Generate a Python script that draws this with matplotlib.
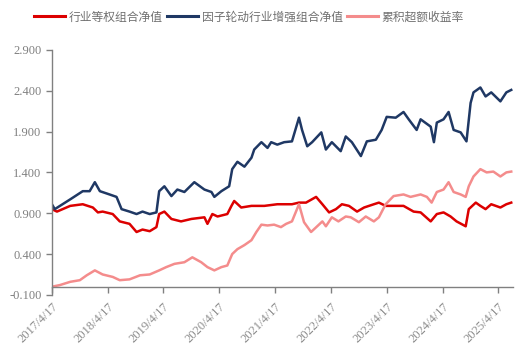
import matplotlib
matplotlib.use("Agg")
import matplotlib.pyplot as plt
import pandas as pd

plt.rcParams['font.family'] = ['Noto Sans CJK SC', 'DejaVu Sans']

# values (dates, net values)
blue_dates = [
    "2017-04-17", "2017-05-06", "2017-08-15", "2017-11-05", "2017-12-20",
    "2018-01-23", "2018-02-25", "2018-04-29", "2018-06-14", "2018-07-17",
    "2018-09-07", "2018-10-23", "2018-12-01", "2019-01-17", "2019-03-02",
    "2019-03-20", "2019-04-23", "2019-06-08", "2019-07-17", "2019-09-01",
    "2019-11-05", "2020-01-10", "2020-02-25", "2020-03-15", "2020-04-30",
    "2020-06-20", "2020-07-10", "2020-08-13", "2020-09-28", "2020-11-13",
    "2020-12-01", "2021-01-17", "2021-02-26", "2021-03-22", "2021-05-01",
    "2021-06-15", "2021-08-05", "2021-09-20", "2021-10-10", "2021-11-13",
    "2021-12-15", "2022-02-13", "2022-03-15", "2022-04-23", "2022-06-20",
    "2022-07-23", "2022-09-01", "2022-10-30", "2022-12-08", "2023-02-05",
    "2023-03-15", "2023-04-17", "2023-06-15", "2023-08-05", "2023-09-08",
    "2023-10-30", "2023-11-25", "2024-01-30", "2024-02-20", "2024-03-10",
    "2024-04-23", "2024-05-26", "2024-06-28", "2024-08-13", "2024-09-20",
    "2024-10-17", "2024-11-05", "2024-12-20", "2025-01-23", "2025-03-01",
    "2025-04-30", "2025-06-08", "2025-07-10",
]
blue_values = [
    1.01, 0.95, 1.07, 1.17, 1.17,
    1.28, 1.17, 1.13, 1.10, 0.95,
    0.92, 0.89, 0.92, 0.89, 0.91,
    1.17, 1.23, 1.11, 1.19, 1.16,
    1.28, 1.19, 1.16, 1.10, 1.17,
    1.23, 1.44, 1.53, 1.47, 1.58,
    1.68, 1.77, 1.70, 1.77, 1.74,
    1.77, 1.78, 2.07, 1.92, 1.72,
    1.77, 1.89, 1.68, 1.77, 1.66,
    1.84, 1.77, 1.60, 1.78, 1.80,
    1.92, 2.08, 2.07, 2.14, 2.05,
    1.92, 2.05, 1.96, 1.77, 2.01,
    2.05, 2.14, 1.92, 1.89, 1.78,
    2.25, 2.38, 2.44, 2.33, 2.38,
    2.27, 2.38, 2.41,
]

red_dates = [
    "2017-04-17", "2017-05-20", "2017-08-15", "2017-11-05", "2018-01-10",
    "2018-02-12", "2018-03-15", "2018-05-20", "2018-07-05", "2018-09-07",
    "2018-10-23", "2018-12-01", "2019-01-17", "2019-03-02", "2019-03-20",
    "2019-04-23", "2019-06-08", "2019-08-10", "2019-10-17", "2020-01-10",
    "2020-01-30", "2020-03-02", "2020-04-05", "2020-06-08", "2020-07-05",
    "2020-07-23", "2020-09-07", "2020-11-13", "2021-02-05", "2021-05-01",
    "2021-08-05", "2021-09-20", "2021-11-05", "2022-01-10", "2022-02-20",
    "2022-04-05", "2022-05-20", "2022-06-28", "2022-08-13", "2022-10-05",
    "2022-11-20", "2023-01-23", "2023-02-25", "2023-04-10", "2023-06-15",
    "2023-08-05", "2023-10-10", "2023-11-25", "2024-01-30", "2024-03-10",
    "2024-04-23", "2024-06-08", "2024-07-17", "2024-09-15", "2024-10-05",
    "2024-11-20", "2024-12-20", "2025-01-23", "2025-03-01", "2025-04-30",
    "2025-06-08", "2025-07-10",
]
red_values = [
    0.95, 0.92, 0.99, 1.01, 0.97,
    0.91, 0.92, 0.89, 0.80, 0.77,
    0.67, 0.70, 0.68, 0.73, 0.89,
    0.92, 0.83, 0.80, 0.83, 0.85,
    0.77, 0.89, 0.86, 0.89, 0.99,
    1.05, 0.97, 0.99, 0.99, 1.01,
    1.01, 1.03, 1.03, 1.10, 1.01,
    0.91, 0.95, 1.01, 0.99, 0.92,
    0.97, 1.01, 1.03, 0.99, 0.99,
    0.99, 0.92, 0.91, 0.80, 0.89,
    0.91, 0.86, 0.80, 0.74, 0.95,
    1.03, 0.99, 0.95, 1.01, 0.97,
    1.01, 1.03,
]

pink_dates = [
    "2017-04-17", "2017-06-08", "2017-08-15", "2017-10-17", "2017-12-01",
    "2018-01-23", "2018-03-15", "2018-05-20", "2018-07-05", "2018-09-07",
    "2018-11-15", "2019-01-17", "2019-03-20", "2019-05-05", "2019-06-28",
    "2019-09-01", "2019-10-23", "2019-12-20", "2020-01-30", "2020-03-15",
    "2020-04-30", "2020-06-08", "2020-07-10", "2020-08-13", "2020-09-28",
    "2020-11-13", "2020-12-15", "2021-01-17", "2021-02-26", "2021-04-10",
    "2021-05-25", "2021-06-28", "2021-08-05", "2021-09-20", "2021-10-23",
    "2021-12-08", "2022-01-17", "2022-02-20", "2022-03-15", "2022-04-23",
    "2022-06-05", "2022-07-23", "2022-08-25", "2022-10-17", "2022-12-01",
    "2023-01-23", "2023-02-25", "2023-04-10", "2023-06-01", "2023-08-05",
    "2023-09-20", "2023-11-25", "2024-01-05", "2024-02-05", "2024-03-10",
    "2024-04-23", "2024-05-26", "2024-06-28", "2024-08-13", "2024-09-15",
    "2024-10-05", "2024-11-05", "2024-12-20", "2025-01-30", "2025-03-15",
    "2025-04-30", "2025-06-08", "2025-07-10",
]
pink_values = [
    0.00, 0.02, 0.06, 0.08, 0.14,
    0.20, 0.15, 0.12, 0.08, 0.09,
    0.14, 0.15, 0.20, 0.24, 0.28,
    0.30, 0.36, 0.30, 0.24, 0.20,
    0.24, 0.26, 0.40, 0.46, 0.51,
    0.57, 0.67, 0.76, 0.75, 0.76,
    0.73, 0.77, 0.80, 1.01, 0.79,
    0.67, 0.74, 0.80, 0.74, 0.85,
    0.80, 0.86, 0.85, 0.79, 0.86,
    0.80, 0.85, 1.01, 1.11, 1.13,
    1.10, 1.13, 1.10, 1.03, 1.16,
    1.19, 1.28, 1.16, 1.13, 1.10,
    1.23, 1.35, 1.44, 1.40, 1.41,
    1.35, 1.40, 1.41,
]

series_names = ["行业等权组合净值", "因子轮动行业增强组合净值", "累积超额收益率"]
series_colors = ["#DC0000", "#1F3864", "#F48C8C"]

tick_dates = ["2017-04-17", "2018-04-17", "2019-04-17", "2020-04-17", "2021-04-17",
              "2022-04-17", "2023-04-17", "2024-04-17", "2025-04-17"]
tick_labels = ["2017/4/17", "2018/4/17", "2019/4/17", "2020/4/17", "2021/4/17",
               "2022/4/17", "2023/4/17", "2024/4/17", "2025/4/17"]
y_ticks = [-0.1, 0.4, 0.9, 1.4, 1.9, 2.4, 2.9]

fig = plt.figure(figsize=(5.19, 3.54), dpi=100)
ax = fig.add_axes([0.100, 0.167, 0.888, 0.692])

series = [(red_dates, red_values), (blue_dates, blue_values), (pink_dates, pink_values)]
for (d, v), name, col in zip(series, series_names, series_colors):
    ax.plot(pd.to_datetime(d), v, color=col, lw=1.8, label=name, solid_joinstyle="round")

# spine position first: moving it resets the tick labels
ax.spines["top"].set_visible(False)
ax.spines["right"].set_visible(False)
ax.spines["bottom"].set_position(("data", 0))
for s in ("left", "bottom"):
    ax.spines[s].set_color("#808080")
    ax.spines[s].set_linewidth(1.0)

ax.set_ylim(-0.1, 2.9)
ax.set_xlim(pd.Timestamp("2017-04-17"), pd.Timestamp("2025-07-20"))
ax.set_yticks(y_ticks)
ax.set_yticklabels([f"{t:.3f}" for t in y_ticks], family="Liberation Serif",
                   fontsize=9, color="#808080")
ax.set_xticks(pd.to_datetime(tick_dates))
ax.set_xticklabels(tick_labels, rotation=45, ha="right", rotation_mode="anchor",
                   family="Liberation Serif", fontsize=9, color="#8c8c8c")
ax.tick_params(axis="both", direction="out", length=4, color="#808080", width=1.0)
ax.tick_params(axis="x", pad=6)

leg = fig.legend(loc="upper center", bbox_to_anchor=(0.48, 1.0), ncol=3, frameon=False,
                 fontsize=8.5, handlelength=2.6, columnspacing=0.4, handletextpad=0.3)
for t in leg.get_texts():
    t.set_color("#707070")
for line in leg.get_lines():
    line.set_linewidth(2.2)

fig.savefig("out.png", dpi=100)
